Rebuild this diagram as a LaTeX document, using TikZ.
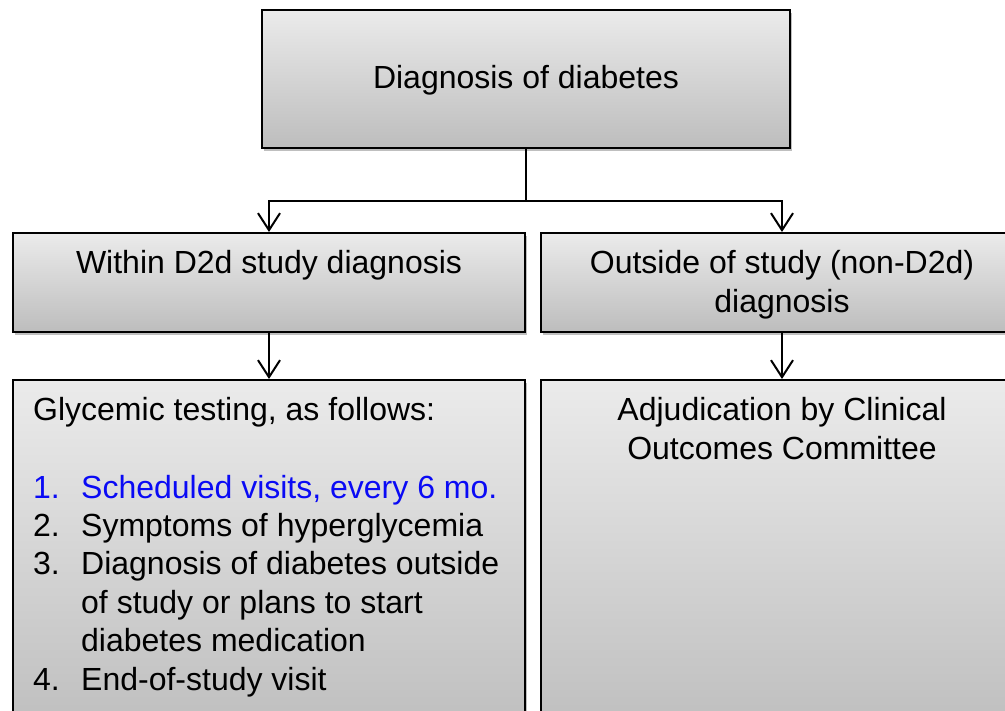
\documentclass[tikz,border=0pt]{standalone}
\usepackage{fontspec}
\setmainfont{Liberation Sans}
\usetikzlibrary{arrows.meta,shadows}
\definecolor{gtop}{HTML}{EBEBEB}
\definecolor{gbot}{HTML}{BDBDBD}
\definecolor{bluetxt}{HTML}{0A0AF5}
\tikzset{
  box/.style={draw=black, line width=2pt, rectangle, inner sep=0pt,
    top color=gtop, bottom color=gbot,
    drop shadow={shadow xshift=2pt, shadow yshift=-3pt, fill=black, opacity=0.25}},
  txt/.style={inner sep=0pt, font=\fontsize{32}{38.4}\selectfont},
  conn/.style={line width=2pt, draw=black},
  arr/.style={conn, -{Straight Barb[length=17pt,width=22pt,line width=2pt]}}
}
\begin{document}
\begin{tikzpicture}[x=1pt,y=-1pt]
\useasboundingbox (0,0) rectangle (1005,711);
% boxes
\node[box, minimum width=528pt, minimum height=138pt] (top) at (526,79) {};
\node[box, minimum width=512pt, minimum height=99pt] (wl) at (269,282.5) {};
\node[box, minimum width=482pt, minimum height=99pt] (wr) at (782,282.5) {};
\node[box, minimum width=512pt, minimum height=360pt] (ll) at (269,560) {};
\node[box, minimum width=482pt, minimum height=360pt] (lr) at (782,560) {};
% texts
\node[txt, anchor=base] (t0) at (526,89) {Diagnosis of diabetes};
\node[txt, anchor=base] (t1) at (269,274) {Within D2d study diagnosis};
\node[txt, anchor=base] (t2a) at (782,274) {Outside of study (non-D2d)};
\node[txt, anchor=base] (t2b) at (782,312.4) {diagnosis};
\node[txt, anchor=base] (t3a) at (782,421) {Adjudication by Clinical};
\node[txt, anchor=base] (t3b) at (782,459.4) {Outcomes Committee};
\node[txt, anchor=base west] (g0) at (33,421) {Glycemic testing, as follows:};
\node[txt, anchor=base west, text=bluetxt] (n1) at (33,498) {1.};
\node[txt, anchor=base west, text=bluetxt] (i1) at (81,498) {Scheduled visits, every 6 mo.};
\node[txt, anchor=base west] (n2) at (33,536.4) {2.};
\node[txt, anchor=base west] (i2) at (81,536.4) {Symptoms of hyperglycemia};
\node[txt, anchor=base west] (n3) at (33,574.8) {3.};
\node[txt, anchor=base west] (i3a) at (81,574.8) {Diagnosis of diabetes outside};
\node[txt, anchor=base west] (i3b) at (81,613.2) {of study or plans to start};
\node[txt, anchor=base west] (i3c) at (81,651.6) {diabetes medication};
\node[txt, anchor=base west] (n4) at (33,690) {4.};
\node[txt, anchor=base west] (i4) at (81,690) {End-of-study visit};
% connectors
\coordinate (j) at (526,201);
\draw[conn] (top.south) -- (j);
\draw[arr] (j) -| (wl.north);
\draw[arr] (j) -| (wr.north);
\draw[arr] (wl.south) -- (ll.north);
\draw[arr] (wr.south) -- (lr.north);
\end{tikzpicture}
\end{document}
